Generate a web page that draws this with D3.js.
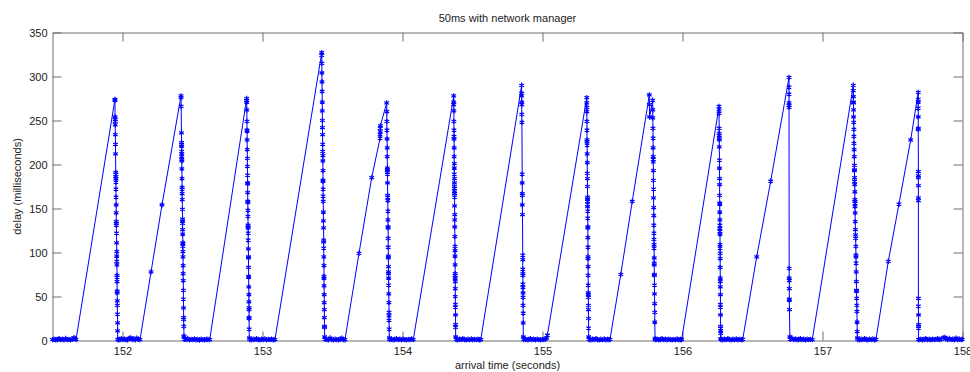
<!DOCTYPE html>
<html>
<head>
<meta charset="utf-8">
<script src="https://cdn.jsdelivr.net/npm/d3@7"></script>
<style>
  body { margin: 0; background: #fff; }
  text { font-family: "Liberation Sans", Arial, sans-serif; fill: #222; }
</style>
</head>
<body>
<div id="chart"></div>
<script>
// [arrival time (s), delay (ms)], one array per cycle
const cycle0 = [
  [151.500,1],[151.512,1.5],[151.523,0.8],[151.535,1.2],[151.547,2],[151.558,1],[151.570,1.4],
  [151.582,0.9],[151.594,2.2],[151.605,1],[151.617,1.3],[151.629,0.7],[151.641,1.5],[151.652,3],
  [151.660,2.5],[151.668,1]
];
const cycle1 = [
  [151.946,274],[151.946,273],[151.947,254],[151.948,251],[151.948,249],[151.948,245],[151.949,234],
  [151.950,223],[151.950,212],[151.952,191],[151.952,189],[151.952,186],[151.953,184],[151.953,180],
  [151.953,172],[151.954,163],[151.955,154],[151.955,145],[151.956,135],[151.956,133],[151.956,131],
  [151.957,122],[151.958,111],[151.959,101],[151.959,96],[151.959,90],[151.960,86],[151.961,74],
  [151.961,72],[151.961,67],[151.962,56],[151.962,54],[151.963,45],[151.963,40],[151.964,30],
  [151.965,20],[151.965,11],[151.966,1.3],
  [151.970,0.8],[151.981,1.2],[151.992,2],[152.003,1],[152.014,1.6],[152.025,1.1],[152.036,0.7],
  [152.047,2.4],[152.058,3],[152.069,1.2],[152.080,1.8],[152.091,0.9],[152.102,2.6],[152.113,1.5],
  [152.125,1]
];
const cycle2 = [
  [152.204,78],[152.282,154],
  [152.418,278],[152.418,276],[152.419,266],[152.421,236],[152.422,225],[152.422,223],[152.422,221],
  [152.423,215],[152.423,212],[152.423,209],[152.423,206],[152.424,204],[152.424,195],[152.425,184],
  [152.426,174],[152.426,172],[152.426,167],[152.427,160],[152.428,149],[152.429,138],[152.429,136],
  [152.429,133],[152.429,126],[152.430,121],[152.431,111],[152.431,110],[152.431,107],[152.431,101],
  [152.432,95],[152.433,85],[152.433,76],[152.434,68],[152.435,57],[152.435,47],[152.436,37],
  [152.437,26],[152.437,24],[152.438,16],[152.439,5],[152.439,4],
  [152.442,1.5],[152.454,1],[152.466,2.2],[152.478,0.8],[152.490,1.3],[152.502,1],[152.514,1.7],
  [152.526,0.9],[152.538,1.2],[152.550,0.6],[152.562,1.4],[152.574,1],[152.586,0.8],[152.598,1.5],
  [152.610,1.1],[152.623,1]
];
const cycle3 = [
  [152.887,275],[152.887,273],[152.887,271],[152.888,262],[152.889,249],[152.889,239],[152.890,238],
  [152.890,228],[152.891,217],[152.892,207],[152.892,198],[152.893,188],[152.894,179],[152.894,178],
  [152.894,168],[152.895,158],[152.895,157],[152.896,148],[152.896,141],[152.897,131],[152.897,129],
  [152.897,128],[152.898,122],[152.898,114],[152.899,104],[152.900,95],[152.900,94],[152.900,83],
  [152.901,73],[152.901,72],[152.902,61],[152.903,52],[152.903,44],[152.904,37],[152.904,35],
  [152.904,26],[152.904,25],[152.905,13],[152.906,3],
  [152.909,1.2],[152.921,0.8],[152.933,1.6],[152.945,1],[152.957,2],[152.969,1.1],[152.981,0.7],
  [152.993,1.4],[153.005,1],[153.017,1.8],[153.029,0.9],[153.041,1.3],[153.053,1],[153.065,1.6],
  [153.077,0.8],[153.089,1.1]
];
const cycle4 = [
  [153.423,327],[153.423,324],[153.424,315],[153.424,304],[153.425,294],[153.426,283],[153.427,271],
  [153.427,261],[153.428,250],[153.428,242],[153.429,234],[153.430,223],[153.430,215],[153.431,210],
  [153.431,204],[153.432,193],[153.432,182],[153.432,181],[153.433,172],[153.433,164],[153.434,158],
  [153.435,146],[153.435,136],[153.436,128],[153.437,114],[153.437,112],[153.437,105],[153.438,95],
  [153.439,85],[153.439,73],[153.439,71],[153.440,62],[153.441,52],[153.441,43],[153.442,35],
  [153.442,26],[153.443,16],[153.443,15],[153.444,4],
  [153.447,1.3],[153.459,1],[153.471,0.7],[153.483,2.8],[153.495,1.2],[153.507,0.9],[153.519,1.5],
  [153.531,1],[153.543,0.8],[153.555,1.7],[153.567,2.5],[153.578,1.1],[153.589,0.9]
];
const cycle5 = [
  [153.689,99],[153.780,185],[153.840,230],[153.840,234],[153.841,237],[153.841,241],[153.842,244],
  [153.887,270],[153.888,260],[153.888,249],[153.889,239],[153.890,229],[153.891,219],[153.891,209],
  [153.892,196],[153.892,194],[153.892,191],[153.893,189],[153.893,179],[153.894,165],[153.894,163],
  [153.895,159],[153.896,147],[153.896,137],[153.897,129],[153.897,128],[153.898,116],[153.898,106],
  [153.899,96],[153.899,94],[153.900,84],[153.900,78],[153.900,76],[153.901,71],[153.901,63],
  [153.902,53],[153.903,43],[153.904,32],[153.904,28],[153.904,23],[153.905,13],[153.906,3],
  [153.909,1],[153.921,1.5],[153.933,0.8],[153.945,1.2],[153.957,2],[153.969,1],[153.981,1.4],
  [153.993,0.9],[154.005,1.6],[154.017,1],[154.029,0.7],[154.041,1.3],[154.053,1],[154.065,1.8],
  [154.077,1]
];
const cycle6 = [
  [154.366,278],[154.366,271],[154.366,268],[154.367,261],[154.367,249],[154.368,239],[154.368,232],
  [154.368,229],[154.369,219],[154.369,209],[154.370,201],[154.370,196],[154.370,189],[154.371,184],
  [154.371,179],[154.371,175],[154.371,173],[154.371,169],[154.372,167],[154.372,163],[154.372,153],
  [154.373,143],[154.373,137],[154.373,129],[154.374,118],[154.375,107],[154.375,102],[154.375,96],
  [154.376,86],[154.376,76],[154.376,74],[154.376,71],[154.377,67],[154.377,59],[154.377,50],
  [154.378,41],[154.378,38],[154.379,29],[154.379,18],[154.379,15],[154.380,4],
  [154.383,1.2],[154.395,0.8],[154.407,1.5],[154.419,1],[154.431,2],[154.443,1.1],[154.455,0.7],
  [154.467,1.4],[154.479,1],[154.491,1.7],[154.503,0.9],[154.515,1.3],[154.527,1],[154.539,1.6],
  [154.549,0.8],[154.559,1]
];
const cycle7 = [
  [154.851,290],[154.851,281],[154.851,278],[154.852,271],[154.852,268],[154.852,257],[154.853,248],
  [154.855,189],[154.855,179],[154.856,167],[154.856,165],[154.856,154],[154.857,143],[154.859,97],
  [154.859,92],[154.859,81],[154.860,76],[154.860,74],[154.860,64],[154.860,60],[154.861,54],
  [154.861,49],[154.861,40],[154.862,31],[154.862,20],[154.863,4],
  [154.866,1],[154.878,1.5],[154.890,0.8],[154.902,1.2],[154.914,2],[154.926,1],[154.938,1.4],
  [154.950,0.9],[154.962,1.6],[154.974,1],[154.986,0.7],[154.998,1.3],[155.010,1],[155.022,1.8],
  [155.030,3],[155.035,6]
];
const cycle8 = [
  [155.316,276],[155.316,270],[155.317,265],[155.317,260],[155.317,249],[155.318,239],[155.318,228],
  [155.318,226],[155.319,222],[155.319,212],[155.320,202],[155.320,190],[155.321,184],[155.321,175],
  [155.322,163],[155.322,161],[155.322,158],[155.322,155],[155.322,152],[155.323,147],[155.323,139],
  [155.324,129],[155.324,128],[155.324,117],[155.325,106],[155.325,95],[155.325,93],[155.326,84],
  [155.326,74],[155.327,63],[155.327,54],[155.327,52],[155.328,49],[155.328,40],[155.328,35],
  [155.329,25],[155.329,14],[155.330,4],
  [155.333,1.2],[155.345,0.8],[155.357,1.5],[155.369,1],[155.381,2],[155.393,1.1],[155.405,0.7],
  [155.417,1.4],[155.429,1],[155.441,1.7],[155.453,0.9],[155.465,1.3],[155.474,1],[155.482,1.2]
];
const cycle9 = [
  [155.559,75],[155.641,158],
  [155.763,279],[155.764,268],[155.765,254],[155.787,273],[155.788,262],[155.788,253],[155.789,241],
  [155.790,230],[155.790,219],[155.791,209],[155.791,206],[155.791,203],[155.792,193],[155.792,182],
  [155.793,172],[155.793,162],[155.794,151],[155.795,142],[155.795,131],[155.796,122],[155.796,115],
  [155.797,109],[155.797,105],[155.798,94],[155.798,88],[155.798,86],[155.799,75],[155.799,74],
  [155.800,63],[155.800,53],[155.801,42],[155.802,32],[155.802,21],[155.804,2],
  [155.806,1],[155.818,1.5],[155.830,0.8],[155.842,1.2],[155.854,2],[155.866,1],[155.878,1.4],
  [155.890,0.9],[155.902,1.6],[155.914,1],[155.926,0.7],[155.938,1.3],[155.950,1],[155.962,1.8],
  [155.974,0.8],[155.986,1.2],[155.994,1]
];
const cycle10 = [
  [156.261,266],[156.261,262],[156.261,258],[156.262,241],[156.262,235],[156.262,233],[156.263,230],
  [156.263,228],[156.263,220],[156.264,205],[156.264,196],[156.265,184],[156.265,177],[156.265,165],
  [156.266,156],[156.266,155],[156.266,146],[156.267,137],[156.267,131],[156.267,127],[156.267,124],
  [156.268,121],[156.268,109],[156.268,105],[156.269,99],[156.269,93],[156.269,83],[156.270,71],
  [156.270,67],[156.270,61],[156.271,52],[156.271,41],[156.271,38],[156.272,29],[156.272,16],
  [156.272,14],[156.273,11],[156.273,8],[156.273,2],
  [156.276,1.2],[156.288,0.8],[156.300,1.5],[156.312,1],[156.324,2],[156.336,1.1],[156.348,0.7],
  [156.360,1.4],[156.372,1],[156.384,1.7],[156.396,0.9],[156.408,1.3],[156.420,1],[156.430,1.2]
];
const cycle11 = [
  [156.530,95],[156.630,181],
  [156.761,299],[156.761,288],[156.761,280],[156.761,270],[156.761,267],[156.761,265],[156.762,82],
  [156.762,71],[156.763,68],[156.763,59],[156.763,47],[156.763,46],[156.764,35],[156.767,4],
  [156.770,1.5],[156.782,2.5],[156.794,1],[156.806,1.8],[156.818,0.9],[156.830,1.2],[156.842,2],
  [156.854,1],[156.866,1.4],[156.878,0.8],[156.890,1.6],[156.902,1],[156.914,1.3],[156.927,1]
];
const cycle12 = [
  [157.220,290],[157.220,284],[157.221,277],[157.221,271],[157.221,270],[157.222,262],[157.222,254],
  [157.223,248],[157.224,240],[157.224,232],[157.225,224],[157.226,217],[157.227,209],[157.228,199],
  [157.228,194],[157.228,193],[157.229,185],[157.229,181],[157.230,177],[157.231,169],[157.231,160],
  [157.232,158],[157.232,156],[157.232,152],[157.233,145],[157.234,135],[157.235,126],[157.236,120],
  [157.237,116],[157.238,107],[157.239,97],[157.239,95],[157.240,88],[157.241,78],[157.242,67],
  [157.243,57],[157.243,56],[157.244,48],[157.245,40],[157.246,33],[157.247,21],[157.248,10],
  [157.249,3],
  [157.252,1.2],[157.264,0.8],[157.276,1.5],[157.288,1],[157.300,2],[157.312,1.1],[157.324,0.7],
  [157.336,1.4],[157.348,1],[157.360,1.7],[157.371,0.9],[157.382,1.2]
];
const cycle13 = [
  [157.470,90],[157.546,155],[157.630,228],
  [157.684,282],[157.684,274],[157.684,271],[157.684,264],[157.684,254],[157.684,241],[157.684,240],
  [157.685,192],[157.685,187],[157.685,185],[157.685,176],[157.685,162],[157.685,159],[157.685,48],
  [157.685,39],[157.686,29],[157.686,18],[157.686,16],[157.686,14],[157.686,1],
  [157.690,1],[157.702,1.5],[157.714,0.8],[157.726,1.2],[157.738,2],[157.750,1],[157.762,1.4],
  [157.774,0.9],[157.786,1.6],[157.798,1],[157.810,1.3],[157.822,2],[157.834,1.1],[157.846,1.3],
  [157.862,3],[157.874,3.5],[157.882,2],[157.894,1.2],[157.906,2.2],[157.918,1],[157.930,1.5],
  [157.942,0.9],[157.954,2.6],[157.966,1.2],[157.978,1.6],[157.990,1],[157.998,1.4]
];

const xTicks = [152, 153, 154, 155, 156, 157, 158];
const yTicks = [0, 50, 100, 150, 200, 250, 300, 350];

const data = [].concat(cycle0, cycle1, cycle2, cycle3, cycle4, cycle5, cycle6, cycle7,
  cycle8, cycle9, cycle10, cycle11, cycle12, cycle13)
  .map(p => ({ t: p[0], d: p[1] }));

const width = 970, height = 372;
const plot = { left: 52.5, right: 962.5, top: 32.5, bottom: 340.5 };
const axisColor = "#6e6e6e";

const svg = d3.select("#chart").append("svg")
  .attr("width", width)
  .attr("height", height);

const x = d3.scaleLinear().domain([151.5, 158]).range([plot.left, plot.right]);
const y = d3.scaleLinear().domain([0, 350]).range([plot.bottom, plot.top]);

// box with inward ticks on all four sides
function styleAxis(g) {
  g.selectAll(".domain").attr("stroke", axisColor);
  g.selectAll(".tick line").attr("stroke", axisColor);
  g.selectAll(".tick text").attr("fill", "#222").attr("font-size", "11px")
    .attr("font-family", "Liberation Sans, Arial, sans-serif");
}

svg.append("g")
  .attr("transform", `translate(0,${plot.bottom})`)
  .call(d3.axisBottom(x).tickValues(xTicks).tickFormat(d3.format("d"))
    .tickSizeInner(-9).tickSizeOuter(0).tickPadding(7))
  .call(styleAxis);

svg.append("g")
  .attr("transform", `translate(0,${plot.top})`)
  .call(d3.axisTop(x).tickValues(xTicks).tickFormat("")
    .tickSizeInner(-9).tickSizeOuter(0))
  .call(styleAxis);

svg.append("g")
  .attr("transform", `translate(${plot.left},0)`)
  .call(d3.axisLeft(y).tickValues(yTicks).tickFormat(d3.format("d"))
    .tickSizeInner(-9).tickSizeOuter(0).tickPadding(5))
  .call(styleAxis);

svg.append("g")
  .attr("transform", `translate(${plot.right},0)`)
  .call(d3.axisRight(y).tickValues(yTicks).tickFormat("")
    .tickSizeInner(-9).tickSizeOuter(0))
  .call(styleAxis);

// delay series
const line = d3.line().x(d => x(d.t)).y(d => y(d.d));

svg.append("path")
  .datum(data)
  .attr("fill", "none")
  .attr("stroke", "#0000ff")
  .attr("stroke-width", 1)
  .attr("d", line);

const marker = d3.symbol().type(d3.symbolAsterisk).size(20);

svg.append("g")
  .selectAll("path")
  .data(data)
  .join("path")
  .attr("transform", d => `translate(${x(d.t)},${y(d.d)})`)
  .attr("d", marker)
  .attr("fill", "none")
  .attr("stroke", "#0000ff")
  .attr("stroke-width", 1.2);

// title and axis labels
svg.append("text")
  .attr("x", (plot.left + plot.right) / 2)
  .attr("y", 22)
  .attr("text-anchor", "middle")
  .attr("font-size", "11px")
  .text("50ms with network manager");

svg.append("text")
  .attr("x", (plot.left + plot.right) / 2)
  .attr("y", 369)
  .attr("text-anchor", "middle")
  .attr("font-size", "11px")
  .text("arrival time (seconds)");

svg.append("text")
  .attr("transform", "rotate(-90)")
  .attr("x", -(plot.top + plot.bottom) / 2)
  .attr("y", 21)
  .attr("text-anchor", "middle")
  .attr("font-size", "11px")
  .text("delay (milliseconds)");
</script>
</body>
</html>
